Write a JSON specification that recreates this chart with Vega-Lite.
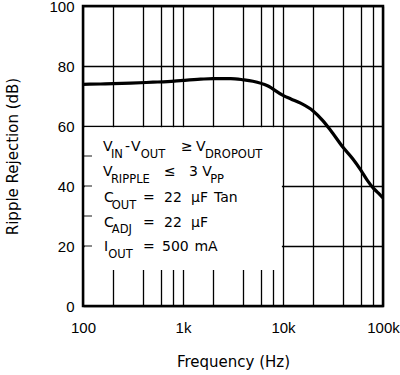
{
  "$schema": "https://vega.github.io/schema/vega-lite/v6.json",
  "width": 300,
  "height": 300,
  "autosize": {"type": "none"},
  "padding": {"left": 83, "top": 6, "right": 17, "bottom": 69},
  "background": "white",
  "config": {
    "view": {"stroke": "black", "strokeWidth": 2.5},
    "axis": {
      "domain": false,
      "ticks": false,
      "grid": true,
      "gridColor": "black",
      "gridWidth": 1.3,
      "gridOpacity": 1,
      "labelColor": "black",
      "titleColor": "black",
      "labelFont": "Liberation Sans",
      "labelFontSize": 15,
      "titleFont": "DejaVu Sans",
      "titleFontSize": 15,
      "titleFontWeight": "normal",
      "labelOverlap": false,
      "labelFlush": false
    }
  },
  "datasets": {
    "curve": [
      {"freq": 100, "db": 73.9},
      {"freq": 150, "db": 74.0},
      {"freq": 200, "db": 74.1},
      {"freq": 300, "db": 74.3},
      {"freq": 500, "db": 74.6},
      {"freq": 700, "db": 74.8},
      {"freq": 1000, "db": 75.2},
      {"freq": 1500, "db": 75.6},
      {"freq": 2000, "db": 75.8},
      {"freq": 3000, "db": 75.8},
      {"freq": 4000, "db": 75.4},
      {"freq": 5000, "db": 74.9},
      {"freq": 7000, "db": 73.4},
      {"freq": 10000, "db": 70.2},
      {"freq": 12000, "db": 69.0},
      {"freq": 15000, "db": 67.6},
      {"freq": 20000, "db": 65.0},
      {"freq": 25000, "db": 61.8},
      {"freq": 30000, "db": 58.5},
      {"freq": 40000, "db": 52.8},
      {"freq": 50000, "db": 49.0},
      {"freq": 60000, "db": 45.3},
      {"freq": 70000, "db": 41.8},
      {"freq": 80000, "db": 39.3},
      {"freq": 90000, "db": 37.6},
      {"freq": 100000, "db": 36.0}
    ],
    "box": [{"f1": 104, "f2": 9750, "d1": 12, "d2": 59.6}],
    "ticks": [{"db": 20}, {"db": 30}, {"db": 40}, {"db": 50}],
    "main": [
      {"t": "V", "f": 158.5, "db": 51.67},
      {"t": "-", "f": 263, "db": 51.67},
      {"t": "V", "f": 302, "db": 51.67},
      {"t": "≥", "f": 955, "db": 51.67},
      {"t": "V", "f": 1349, "db": 51.67},
      {"t": "V", "f": 158.5, "db": 43.33},
      {"t": "≤", "f": 645.7, "db": 43.33},
      {"t": "3", "f": 1148, "db": 43.33},
      {"t": "V", "f": 1560, "db": 43.33},
      {"t": "C", "f": 162.2, "db": 34.67},
      {"t": "=", "f": 398.1, "db": 34.67},
      {"t": "22", "f": 645.7, "db": 34.67},
      {"t": "µF", "f": 1202, "db": 34.67},
      {"t": "Tan", "f": 2042, "db": 34.67},
      {"t": "C", "f": 162.2, "db": 26.5},
      {"t": "=", "f": 398.1, "db": 26.5},
      {"t": "22", "f": 645.7, "db": 26.5},
      {"t": "µF", "f": 1202, "db": 26.5},
      {"t": "I", "f": 162.2, "db": 18.33},
      {"t": "=", "f": 398.1, "db": 18.33},
      {"t": "500", "f": 616.6, "db": 18.33},
      {"t": "mA", "f": 1300, "db": 18.33}
    ],
    "sub": [
      {"t": "IN", "f": 190, "db": 49.33},
      {"t": "OUT", "f": 378, "db": 49.33},
      {"t": "DROPOUT", "f": 1660, "db": 49.33},
      {"t": "RIPPLE", "f": 190, "db": 41.0},
      {"t": "PP", "f": 1870, "db": 41.0},
      {"t": "OUT", "f": 194, "db": 32.33},
      {"t": "ADJ", "f": 194, "db": 24.17},
      {"t": "OUT", "f": 179, "db": 16.0}
    ]
  },
  "layer": [
    {
      "data": {"name": "box"},
      "mark": {"type": "rect", "fill": "white", "stroke": null},
      "encoding": {
        "x": {
          "field": "f1",
          "type": "quantitative",
          "scale": {"type": "log", "domain": [100, 100000]},
          "axis": {
            "title": "Frequency (Hz)",
            "values": [100, 200, 400, 600, 800, 1000, 2000, 4000, 6000, 8000, 10000, 20000, 40000, 60000, 80000, 100000],
            "labelExpr": "datum.value == 100 ? '100' : datum.value == 1000 ? '1k' : datum.value == 10000 ? '10k' : datum.value == 100000 ? '100k' : ''",
            "labelPadding": 14,
            "titlePadding": 19
          }
        },
        "x2": {"field": "f2"},
        "y": {
          "field": "d1",
          "type": "quantitative",
          "scale": {"domain": [0, 100], "nice": false},
          "axis": {
            "title": "Ripple Rejection (dB)",
            "values": [0, 10, 20, 30, 40, 50, 60, 70, 80, 90, 100],
            "labelExpr": "datum.value % 20 == 0 ? datum.label : ''",
            "labelPadding": 9,
            "titlePadding": 28
          }
        },
        "y2": {"field": "d2"}
      }
    },
    {
      "data": {"name": "ticks"},
      "mark": {"type": "tick", "orient": "horizontal", "color": "black", "size": 18, "thickness": 1.3, "clip": true},
      "encoding": {
        "x": {"datum": 100, "type": "quantitative"},
        "y": {"field": "db", "type": "quantitative"}
      }
    },
    {
      "data": {"name": "curve"},
      "mark": {"type": "line", "color": "black", "strokeWidth": 3.2, "interpolate": "monotone", "clip": true},
      "encoding": {
        "x": {"field": "freq", "type": "quantitative"},
        "y": {"field": "db", "type": "quantitative"}
      }
    },
    {
      "data": {"name": "main"},
      "mark": {"type": "text", "align": "left", "baseline": "alphabetic", "font": "DejaVu Sans", "fontSize": 14, "color": "black"},
      "encoding": {
        "x": {"field": "f", "type": "quantitative"},
        "y": {"field": "db", "type": "quantitative"},
        "text": {"field": "t"}
      }
    },
    {
      "data": {"name": "sub"},
      "mark": {"type": "text", "align": "left", "baseline": "alphabetic", "font": "DejaVu Sans", "fontSize": 11.5, "color": "black"},
      "encoding": {
        "x": {"field": "f", "type": "quantitative"},
        "y": {"field": "db", "type": "quantitative"},
        "text": {"field": "t"}
      }
    }
  ]
}
